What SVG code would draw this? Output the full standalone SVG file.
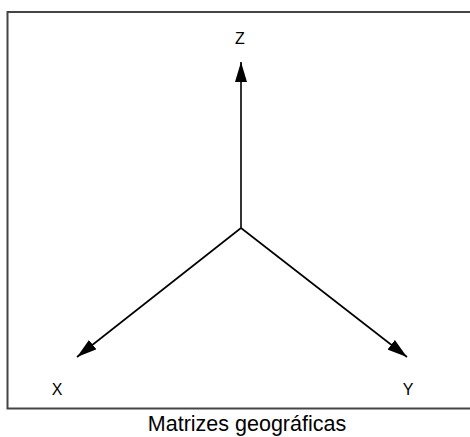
<svg xmlns="http://www.w3.org/2000/svg" width="470" height="437" viewBox="0 0 470 437">
<style>
.axis{stroke:#000;stroke-width:1.6;fill:none}
.lbl{font-family:"Liberation Sans",Arial,sans-serif;font-size:16px;fill:#000;text-anchor:middle}
.title{font-family:"Liberation Sans",Arial,sans-serif;font-size:21.5px;fill:#000;text-anchor:middle}
</style>
<defs>
<marker id="ah" viewBox="0 0 20 12" refX="20" refY="6" markerWidth="20" markerHeight="12" markerUnits="userSpaceOnUse" orient="auto">
<path d="M0,0 L20,6 L0,12 Z" fill="#000"/>
</marker>
</defs>
<rect width="470" height="437" fill="#fff"/>
<path d="M470,12 H7.5 V408.5 H470" fill="none" stroke="#444" stroke-width="2"/>
<g id="connectors">
<line class="axis" x1="241" y1="228" x2="241" y2="62" marker-end="url(#ah)"/>
<line class="axis" x1="241" y1="228" x2="77" y2="357" marker-end="url(#ah)"/>
<line class="axis" x1="241" y1="228" x2="407" y2="357" marker-end="url(#ah)"/>
</g>
<g id="z"><text class="lbl" x="240" y="44">Z</text></g>
<g id="x"><text class="lbl" x="57" y="395">X</text></g>
<g id="y"><text class="lbl" x="408" y="395">Y</text></g>
<g id="title"><text class="title" x="247" y="431">Matrizes geográficas</text></g>
</svg>
